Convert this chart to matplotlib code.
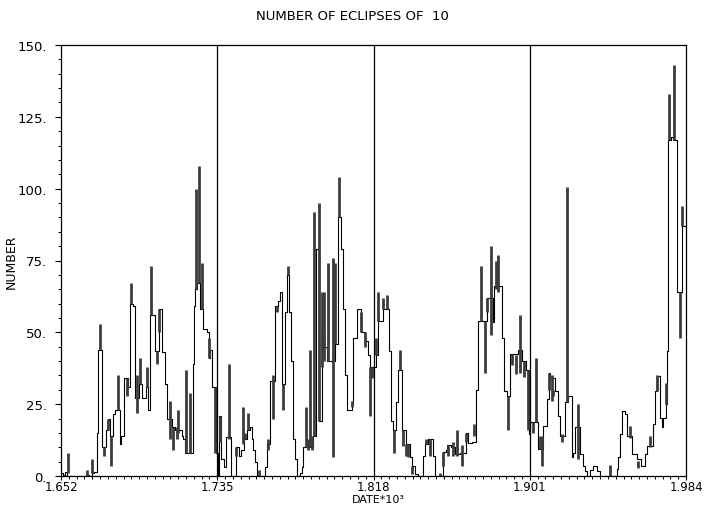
import numpy as np
import matplotlib
matplotlib.use("Agg")
import matplotlib.pyplot as plt
from matplotlib.ticker import FixedLocator, FormatStrFormatter, MultipleLocator

# step outline: start year of each level and its value
step_years = [1652.0, 1653.1, 1654.1, 1655.2, 1665.3, 1666.9, 1668.5, 1669.5, 1671.1, 1671.9,
              1673.8, 1675.9, 1677.0, 1678.0, 1679.6, 1680.7, 1683.1, 1684.1, 1685.5, 1687.6,
              1688.7, 1690.3, 1691.3, 1693.2, 1695.0, 1697.2, 1698.4, 1699.3, 1702.0, 1703.8,
              1705.5, 1707.3, 1708.2, 1710.8, 1712.6, 1716.1, 1717.0, 1717.9, 1722.0, 1722.7,
              1723.2, 1724.5, 1726.1, 1727.4, 1729.6, 1730.4, 1731.2, 1732.2, 1734.6, 1735.3,
              1735.9, 1737.0, 1738.6, 1739.7, 1742.2, 1745.0, 1746.7, 1747.5, 1749.2, 1750.7,
              1752.4, 1753.3, 1754.2, 1755.1, 1756.0, 1760.4, 1761.3, 1763.0, 1765.7, 1767.5,
              1768.4, 1769.3, 1771.0, 1771.9, 1773.3, 1774.0, 1775.4, 1776.3, 1777.2, 1779.0,
              1780.0, 1780.7, 1785.9, 1787.5, 1789.1, 1790.4, 1791.7, 1793.1, 1797.8, 1798.9,
              1800.8, 1801.7, 1802.9, 1804.1, 1806.5, 1807.3, 1809.1, 1811.2, 1813.5, 1815.3,
              1816.2, 1819.4, 1820.6, 1822.9, 1826.4, 1827.2, 1828.2, 1830.0, 1831.2, 1833.0,
              1835.3, 1837.4, 1838.3, 1840.1, 1841.8, 1844.5, 1845.4, 1847.1, 1849.5, 1850.7,
              1855.1, 1856.6, 1857.2, 1859.0, 1861.3, 1864.0, 1867.2, 1868.4, 1870.2, 1872.5,
              1873.7, 1878.2, 1881.4, 1882.2, 1886.1, 1887.4, 1888.8, 1890.6, 1895.0, 1896.8,
              1899.1, 1900.5, 1901.2, 1905.6, 1908.3, 1910.1, 1911.0, 1911.8, 1914.5, 1916.2,
              1917.1, 1919.8, 1921.5, 1923.3, 1924.2, 1925.1, 1927.7, 1929.5, 1930.4, 1931.3,
              1933.1, 1934.5, 1936.9, 1938.4, 1947.2, 1948.1, 1949.0, 1949.9, 1951.7, 1952.9,
              1955.2, 1957.9, 1960.0, 1962.3, 1963.2, 1966.7, 1967.6, 1968.5, 1970.3, 1971.2,
              1972.0, 1973.3, 1974.1, 1974.7, 1975.9, 1977.3, 1979.1, 1981.8, 1983.9]
step_values = [1, 0.5, 1.5, 0, 0.5, 0, 1, 1.5, 15, 44,
               10, 16, 20, 14, 21.5, 23, 11, 14, 34, 31,
               60, 59, 27, 32, 27, 31, 23, 56, 43.5, 58,
               43, 32, 20, 17, 16, 14, 13, 8, 39, 59,
               65, 67, 58, 51, 50, 41, 44, 31, 8, 0,
               21, 6, 3, 13.5, 0, 10, 7, 9, 13, 16,
               17, 13, 9, 5, 0, 3, 11, 33, 59, 61,
               64, 32, 57, 70, 57, 40, 13, 6, 0, 1,
               3, 10, 14, 79, 19, 50, 45, 40, 46, 90,
               79, 58, 35, 23, 25, 48, 58, 50, 47, 42,
               38, 42, 54, 58, 43.5, 19, 16, 25.6, 37, 16,
               11, 6.6, 3.5, 0.6, 0, 7, 11, 13, 7, 0,
               8.3, 9, 10.7, 10, 7.5, 8, 15, 11.6, 12, 30,
               54, 62, 53.5, 66, 48, 29.6, 28, 42.5, 44, 40,
               37, 14.6, 18.7, 9.4, 17.4, 26.8, 36, 34, 29.5, 21,
               14, 25.7, 28, 6.6, 8, 17, 7.6, 3.5, 1.8, 0,
               2, 3.5, 1.8, 0, 2.3, 6.6, 14.6, 22.6, 21.5, 14,
               7.6, 5.8, 3.5, 7.6, 10.5, 18, 29.5, 34.7, 20.3, 17,
               20.3, 25, 43.5, 117, 118, 117, 64, 87, 87]

# short-period swings drawn as dark bars: year, low, high
bar_years = [1655.7, 1665.8, 1668.7, 1672.5, 1674.8, 1677.2, 1678.6, 1682.3, 1686.8, 1689.2,
             1692.2, 1694.0, 1697.5, 1699.6, 1702.8, 1704.3, 1709.9, 1711.7, 1713.5, 1714.3,
             1718.4, 1720.5, 1723.5, 1725.1, 1726.8, 1730.8, 1733.8, 1736.2, 1741.4, 1745.0,
             1748.5, 1749.8, 1751.5, 1757.4, 1762.1, 1764.8, 1766.6, 1770.1, 1772.6, 1782.2,
             1783.4, 1784.3, 1785.5, 1786.4, 1789.2, 1790.4, 1791.7, 1793.9, 1796.5, 1797.8,
             1799.9, 1806.5, 1811.2, 1813.5, 1816.2, 1817.1, 1819.4, 1820.6, 1822.9, 1825.0,
             1828.9, 1832.1, 1833.9, 1835.3, 1836.5, 1838.3, 1845.9, 1848.1, 1853.4, 1855.1,
             1857.8, 1860.4, 1862.6, 1865.1, 1867.2, 1871.4, 1875.0, 1877.3, 1878.2, 1880.3,
             1883.1, 1884.3, 1889.7, 1891.5, 1893.7, 1895.9, 1897.7, 1900.3, 1902.6, 1904.4,
             1906.5, 1907.4, 1911.0, 1912.7, 1913.6, 1918.0, 1920.7, 1926.8, 1943.7, 1954.0,
             1958.7, 1965.0, 1968.5, 1973.3, 1975.0, 1977.8, 1980.9, 1981.8]
bar_low = [1, 0, 1, 44, 7, 16, 3.5, 23, 28, 60,
           22, 32, 31, 56, 39, 50, 13, 9, 13, 15,
           8, 8, 65, 67, 58, 41, 8, 12, 13, 7,
           11, 13, 16, 0, 9, 20, 57, 23, 70, 10,
           9, 10, 9, 14, 19, 38, 40, 40, 6.6, 46,
           90, 24, 50, 45, 21, 34, 42, 54, 58, 58,
           8, 37, 10.5, 7, 6.6, 0.6, 11, 7, 0, 3.5,
           7, 7, 7, 3.5, 12, 14, 54, 36, 57, 49,
           65, 64, 16, 38.5, 35.5, 36, 34.5, 16, 15, 18.7,
           9.4, 3.5, 30, 26, 28, 12, 25.7, 6, 0, 13.3,
           2.9, 10, 29.5, 25, 117, 117, 48, 87]
bar_high = [8, 2, 6, 53, 10, 20, 14, 35, 34, 67,
            35, 41, 38, 73, 43.5, 58, 26, 17, 17, 23,
            37, 29, 100, 108, 74, 48, 31, 21, 39, 10,
            24, 15, 22, 2, 13, 35, 59, 32, 73, 24,
            13, 44, 14, 92, 95, 64, 64, 74, 76, 74,
            104, 26, 57, 50, 38, 38, 48, 64, 62, 63,
            16, 44, 16, 11, 11, 3.5, 13, 13, 1, 8.3,
            10.7, 12, 16, 10.7, 15, 18, 73, 54, 62, 80,
            75, 77, 28, 42.5, 42, 56, 40, 37, 18.7, 41,
            14, 14, 36, 35, 30, 14.6, 100.6, 25, 4, 17.4,
            5.2, 14, 35, 32.5, 133, 143, 64, 94]

x_ticks = [1.652, 1.735, 1.818, 1.901, 1.984]
y_ticks = [0, 25, 50, 75, 100, 125, 150]

fig = plt.figure(figsize=(7.05, 5.06), dpi=100)
ax = fig.add_axes([61 / 705, 29 / 506, 625 / 705, 431 / 506])

x = np.array(step_years) / 1000.0
ax.step(x, step_values, where='post', color='black', lw=0.8)
ax.vlines(np.array(bar_years) / 1000.0, bar_low, bar_high, color='#3c3c3c', lw=2.0)

for t in x_ticks[1:-1]:
    ax.axvline(t, color='black', lw=0.9)

ax.set_xlim(x_ticks[0], x_ticks[-1])
ax.set_ylim(0, 150)
ax.xaxis.set_major_locator(FixedLocator(x_ticks))
ax.xaxis.set_minor_locator(FixedLocator(np.linspace(x_ticks[0], x_ticks[-1], 81)))
ax.xaxis.set_major_formatter(FormatStrFormatter('%.3f'))
ax.yaxis.set_major_locator(FixedLocator(y_ticks))
ax.yaxis.set_minor_locator(MultipleLocator(5))
ax.yaxis.set_major_formatter(FormatStrFormatter('%d.'))

ax.tick_params(axis='y', which='major', direction='out', length=4, width=0.8, labelsize=9.5, pad=6)
ax.tick_params(axis='y', which='minor', direction='out', length=2.5, width=0.7)
ax.tick_params(axis='x', which='major', direction='out', length=3, width=0.8, labelsize=8.5, pad=0)
ax.tick_params(axis='x', which='minor', direction='out', length=2, width=0.7)
for s in ax.spines.values():
    s.set_linewidth(0.9)

ax.set_ylabel('NUMBER', fontsize=9, labelpad=0)
fig.text(378 / 705, 1 / 506, 'DATE*10³', ha='center', va='bottom', fontsize=8)
fig.text(0.5, 0.968, 'NUMBER OF ECLIPSES OF  10', ha='center', va='center', fontsize=9.5)

fig.savefig('out.png', dpi=100)
